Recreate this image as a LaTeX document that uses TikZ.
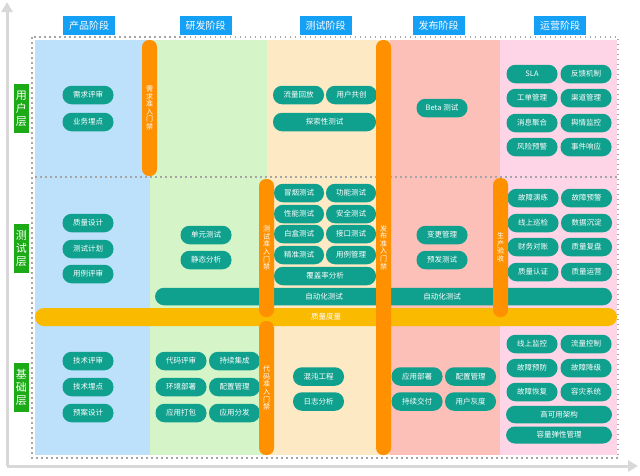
\documentclass[tikz,border=0pt]{standalone}
\usepackage{fontspec}
\setmainfont{Noto Sans CJK SC}
\usetikzlibrary{arrows.meta}
\definecolor{stageblue}{RGB}{20,160,245}
\definecolor{layergreen}{RGB}{28,170,22}
\definecolor{pillteal}{RGB}{16,160,142}
\definecolor{gateorange}{RGB}{255,145,0}
\definecolor{metricyellow}{RGB}{250,186,0}
\definecolor{dotgray}{RGB}{165,165,165}
\definecolor{axisgray}{RGB}{216,216,216}
\definecolor{bgblue}{RGB}{189,224,251}
\definecolor{bggreen}{RGB}{213,245,200}
\definecolor{bgbeige}{RGB}{253,234,196}
\definecolor{bgsalmon}{RGB}{252,192,184}
\definecolor{bgpink}{RGB}{253,213,230}
\begin{document}
\begin{tikzpicture}[x=1pt,y=-1pt]
  \tikzset{pill/.style={fill=pillteal, rounded corners=9pt, text=white, inner sep=0pt, minimum width=51pt, minimum height=18.5pt, font=\fontsize{7.5}{9}\selectfont}}
  \tikzset{widepill/.style={pill, minimum width=103pt}}
  \tikzset{gate/.style={fill=gateorange, rounded corners=7pt, text=white, inner sep=0pt, minimum width=15pt, align=center, font=\fontsize{7}{7.6}\selectfont}}
  \tikzset{stage/.style={fill=stageblue, text=white, inner sep=0pt, minimum width=52pt, minimum height=19pt, font=\fontsize{10}{12}\selectfont}}
  \tikzset{layer/.style={fill=layergreen, text=white, inner sep=0pt, minimum width=15pt, minimum height=49pt, align=center, font=\fontsize{11}{13}\selectfont}}
  \tikzset{sep/.style={draw=dotgray, line width=1.5pt, dash pattern=on 1.5pt off 3.5pt}}
  \tikzset{axis/.style={draw=axisgray, line width=3pt, -{Triangle[width=11pt,length=10pt]}}}
  \useasboundingbox (0,0) rectangle (640,475);

  % axes
  \coordinate (o) at (7,466);
  \coordinate (ytop) at (7,2);
  \coordinate (xend) at (638,466);
  \draw[axis] (o) -- (ytop);
  \draw[axis] (o) -- (xend);

  % stage columns
  \fill[bgblue] (35,40) rectangle (150,455);
  \fill[bggreen] (150,40) rectangle (267,455);
  \fill[bgbeige] (267,40) rectangle (390,455);
  \fill[bgsalmon] (390,40) rectangle (500,455);
  \fill[bgpink] (500,40) rectangle (617,455);
  \draw[sep] (32,37) rectangle (618,458);
  \draw[sep] (35,177) -- (617,177);
  \draw[sep] (35,317) -- (617,317);

  \node[stage] at (89,25.5) (s_1) {产品阶段};
  \node[stage] at (205.5,25.5) (s_2) {研发阶段};
  \node[stage] at (325.5,25.5) (s_3) {测试阶段};
  \node[stage] at (438.5,25.5) (s_4) {发布阶段};
  \node[stage] at (560,25.5) (s_5) {运营阶段};

  \node[layer] at (21.5,108.5) (l_1) {用\\户\\层};
  \node[layer] at (21.5,248) (l_2) {测\\试\\层};
  \node[layer] at (21.5,387.5) (l_3) {基\\础\\层};

  % product
  \node[pill] at (88,95) (a_u1) {需求评审};
  \node[pill] at (88,122) (a_u2) {业务埋点};
  \node[pill] at (88,223) (a_t1) {质量设计};
  \node[pill] at (88,249) (a_t2) {测试计划};
  \node[pill] at (88,274) (a_t3) {用例评审};
  \node[pill] at (88,361) (a_b1) {技术评审};
  \node[pill] at (88,387) (a_b2) {技术埋点};
  \node[pill] at (88,413) (a_b3) {预案设计};

  % development
  \node[pill] at (206,235) (b_t1) {单元测试};
  \node[pill] at (206,260) (b_t2) {静态分析};
  \node[pill] at (181,361) (b_b1) {代码评审};
  \node[pill] at (234.5,361) (b_b2) {持续集成};
  \node[pill] at (181,387) (b_b3) {环境部署};
  \node[pill] at (234.5,387) (b_b4) {配置管理};
  \node[pill] at (181,413) (b_b5) {应用打包};
  \node[pill] at (234.5,413) (b_b6) {应用分发};

  % testing
  \node[pill] at (298.5,95) (c_u1) {流量回放};
  \node[pill] at (351.5,95) (c_u2) {用户共创};
  \node[widepill] at (324.5,122) (c_u3) {探索性测试};
  \node[pill, minimum width=50pt] at (299,193) (c_t1) {冒烟测试};
  \node[pill, minimum width=50pt] at (351,193) (c_t2) {功能测试};
  \node[pill, minimum width=50pt] at (299,214) (c_t3) {性能测试};
  \node[pill, minimum width=50pt] at (351,214) (c_t4) {安全测试};
  \node[pill, minimum width=50pt] at (299,234) (c_t5) {白盒测试};
  \node[pill, minimum width=50pt] at (351,234) (c_t6) {接口测试};
  \node[pill, minimum width=50pt] at (299,255) (c_t7) {精准测试};
  \node[pill, minimum width=50pt] at (351,255) (c_t8) {用例管理};
  \node[widepill, minimum width=102pt] at (325,276) (c_t9) {覆盖率分析};
  \node[pill] at (318.5,376.5) (c_b1) {混沌工程};
  \node[pill] at (318.5,401.5) (c_b2) {日志分析};

  % release
  \node[pill] at (442,108) (d_u1) {Beta 测试};
  \node[pill] at (442,235) (d_t1) {变更管理};
  \node[pill] at (442,260) (d_t2) {预发测试};
  \node[pill] at (417,376.5) (d_b1) {应用部署};
  \node[pill] at (470.5,376.5) (d_b2) {配置管理};
  \node[pill] at (417,401.5) (d_b3) {持续交付};
  \node[pill] at (470.5,401.5) (d_b4) {用户灰度};

  % operation
  \node[pill] at (532,74) (e_u1) {SLA};
  \node[pill] at (586,74) (e_u2) {反馈机制};
  \node[pill] at (532,98) (e_u3) {工单管理};
  \node[pill] at (586,98) (e_u4) {渠道管理};
  \node[pill] at (532,123) (e_u5) {消息聚合};
  \node[pill] at (586,123) (e_u6) {舆情监控};
  \node[pill] at (532,147) (e_u7) {风险预警};
  \node[pill] at (586,147) (e_u8) {事件响应};
  \node[pill] at (533,198) (e_t1) {故障演练};
  \node[pill] at (586.5,198) (e_t2) {故障预警};
  \node[pill] at (533,223) (e_t3) {线上巡检};
  \node[pill] at (586.5,223) (e_t4) {数据沉淀};
  \node[pill] at (533,247) (e_t5) {财务对账};
  \node[pill] at (586.5,247) (e_t6) {质量复盘};
  \node[pill] at (533,272) (e_t7) {质量认证};
  \node[pill] at (586.5,272) (e_t8) {质量运营};
  \node[pill] at (532,344) (e_b1) {线上监控};
  \node[pill] at (586,344) (e_b2) {流量控制};
  \node[pill] at (532,368) (e_b3) {故障预防};
  \node[pill] at (586,368) (e_b4) {故障降级};
  \node[pill] at (532,392) (e_b5) {故障恢复};
  \node[pill] at (586,392) (e_b6) {容灾系统};
  \node[widepill, minimum width=106pt, minimum height=17.5pt] at (559,414.5) (e_b7) {高可用架构};
  \node[widepill, minimum width=106pt, minimum height=17pt] at (559,435) (e_b8) {容量弹性管理};

  % cross-stage bars
  \node[pill, minimum width=457pt, minimum height=17.5pt] at (383.5,296.5) (auto) {};
  \node[text=white, font=\fontsize{7.5}{9}\selectfont] at (324,296.5) (auto_1) {自动化测试};
  \node[text=white, font=\fontsize{7.5}{9}\selectfont] at (442,296.5) (auto_2) {自动化测试};
  \node[pill, fill=metricyellow, minimum width=582pt, minimum height=18pt] at (326,317) (metric) {质量度量};

  % gates
  \node[gate, minimum height=136pt] at (149.5,108) (g_1) {需\\求\\准\\入\\门\\禁};
  \node[gate, minimum height=138pt] at (266.5,248) (g_2) {测\\试\\准\\入\\门\\禁};
  \node[gate, minimum height=134pt] at (266.5,388) (g_3) {代\\码\\准\\入\\门\\禁};
  \node[gate, minimum height=415pt] at (383.5,247.5) (g_4) {发\\布\\准\\入\\门\\禁};
  \node[gate, minimum height=139pt] at (500.5,247.5) (g_5) {生\\产\\验\\收};
\end{tikzpicture}
\end{document}
